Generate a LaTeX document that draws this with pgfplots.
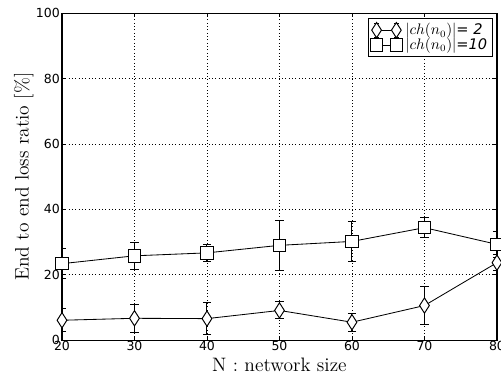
\documentclass[border=0pt]{standalone}
\usepackage{pgfplots}
\pgfplotsset{compat=1.18}
\usepackage{fontspec}
\newfontfamily\dejavu{DejaVu Sans}
\begin{document}
\begin{tikzpicture}
\begin{axis}[
  at={(0,0)}, anchor=south west,
  scale only axis,
  width=313pt, height=235.4pt,
  xmin=20, xmax=80, ymin=0, ymax=100,
  xtick={20,30,...,80}, ytick={0,20,...,100},
  tick align=inside, major tick length=3pt,
  tick style={black, line width=0.5pt},
  grid=major,
  major grid style={black, dotted, line width=0.5pt},
  axis line style={line width=0.8pt},
  /pgf/number format/assume math mode=true,
  ticklabel style={font=\dejavu\fontsize{9}{10}\selectfont},
  xticklabel style={yshift=3pt},
  yticklabel style={xshift=2pt},
  xlabel={N : network size},
  ylabel={End to end loss ratio [\%]},
  label style={font=\fontsize{14}{16}\selectfont},
  xlabel style={yshift=1.5pt},
  ylabel style={yshift=-5pt},
  legend style={at={(rel axis cs:0.99,0.985)}, anchor=north east, draw=black, line width=0.8pt,
    font=\fontsize{10.5}{11}\selectfont, inner sep=1.5pt, row sep=-3pt,
    cells={anchor=west}},
  legend image code/.code={%
    \draw[#1, mark=none] (0cm,0cm) -- (0.5cm,0cm);
    \draw[#1, mark=none, line width=0.5pt] (0cm,-0.17cm)--(0cm,0.17cm) (-0.06cm,-0.17cm)--(0.06cm,-0.17cm) (-0.06cm,0.17cm)--(0.06cm,0.17cm);
    \draw[#1, mark=none, line width=0.5pt] (0.5cm,-0.17cm)--(0.5cm,0.17cm) (0.44cm,-0.17cm)--(0.56cm,-0.17cm) (0.44cm,0.17cm)--(0.56cm,0.17cm);
    \draw[#1, only marks] plot coordinates {(0cm,0cm) (0.5cm,0cm)};
  },
]
\addplot[black, line width=0.6pt, mark=diamond*, mark size=5.5pt,
  mark options={fill=white, line width=0.7pt, xscale=0.85},
  error bars/.cd, y dir=both, y explicit,
  error bar style={line width=0.7pt},
  error mark options={rotate=90, mark size=3pt, line width=0.7pt}]
  coordinates {
  (20,6.1) +- (0,3.5)
  (30,6.7) +- (0,4.3)
  (40,6.6) +- (0,4.8)
  (50,9.1) +- (0,2.6)
  (60,5.5) +- (0,2.7)
  (70,10.6) +- (0,5.9)
  (80,23.7) +- (0,2.5)
  };
\addlegendentry{$|ch(n_0)|${\dejavu\itshape = 2}}
\addplot[black, line width=0.6pt, mark=square*, mark size=4.5pt,
  mark options={fill=white, line width=0.7pt},
  error bars/.cd, y dir=both, y explicit,
  error bar style={line width=0.7pt},
  error mark options={rotate=90, mark size=3pt, line width=0.7pt}]
  coordinates {
  (20,23.4) +- (0,4.6)
  (30,25.8) +- (0,4.2)
  (40,26.7) +- (0,2.6)
  (50,29.0) +- (0,7.7)
  (60,30.2) +- (0,6.1)
  (70,34.4) +- (0,3.1)
  (80,29.3) +- (0,4.0)
  };
\addlegendentry{$|ch(n_0)|${\dejavu\itshape =10}}
\end{axis}
\pgfresetboundingbox
\path (-44.6pt,-26.6pt) rectangle (315.9pt,244.8pt);
\end{tikzpicture}
\end{document}
